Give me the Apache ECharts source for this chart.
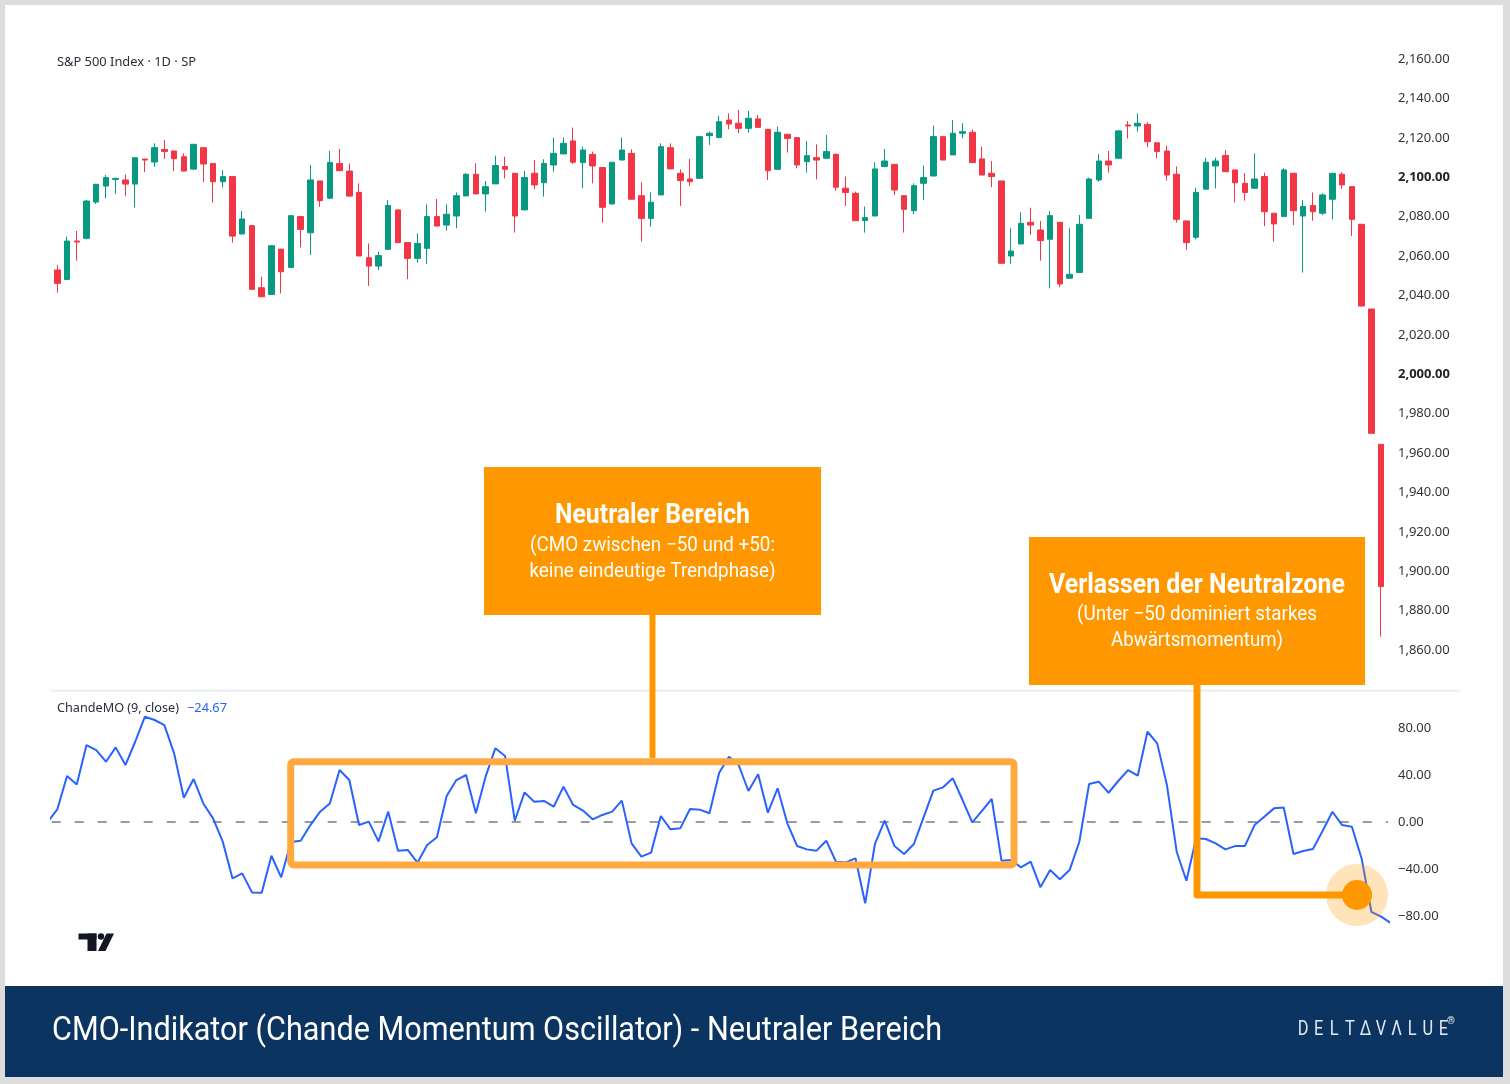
<!DOCTYPE html>
<html><head><meta charset="utf-8">
<script src="https://cdn.jsdelivr.net/npm/echarts@6/dist/echarts.min.js"></script>
<style>html,body{margin:0;padding:0;background:#dcdcdc;}#c{width:1510px;height:1084px;}</style>
</head><body><div id="c"></div>
<script>
// ---- DATA ----
const open = [2052.9,2048.1,2067.6,2069.0,2087.4,2095.5,2098.8,2098.6,2096.5,2109.2,
2107.7,2114.1,2113.3,2110.4,2104.1,2115.0,2107.0,2097.7,2100.3,2071.2,
2075.4,2043.9,2040.5,2063.5,2054.2,2080.0,2071.8,2098.1,2089.3,2107.0,
2103.1,2092.3,2059.1,2054.9,2063.4,2083.4,2066.8,2058.8,2063.9,2080.0,
2075.7,2080.3,2090.5,2101.5,2091.5,2096.6,2105.4,2102.0,2083.4,2102.0,
2097.2,2106.2,2111.8,2118.4,2107.4,2111.6,2104.9,2086.4,2108.7,2112.1,
2090.6,2079.1,2091.0,2115.0,2102.0,2099.1,2099.4,2121.1,2120.2,2129.0,
2127.4,2124.8,2129.6,2124.3,2104.0,2121.8,2120.1,2107.9,2109.9,2109.6,
2111.6,2094.4,2091.8,2078.0,2080.3,2105.4,2106.5,2090.6,2083.0,2096.9,
2100.6,2120.6,2111.3,2122.3,2122.8,2109.3,2102.0,2098.1,2060.0,2066.1,
2077.1,2073.2,2068.5,2077.1,2048.7,2051.6,2079.1,2098.6,2108.2,2109.6,
2126.5,2126.0,2126.8,2117.5,2113.3,2101.5,2077.8,2069.5,2093.9,2105.7,
2111.0,2103.7,2096.9,2094.4,2100.3,2081.7,2080.0,2102.0,2080.3,2085.6,
2081.7,2088.8,2101.5,2095.2,2076.1,2033.1,1964.4,1897.2];
const close = [2046.1,2067.6,2067.1,2087.9,2096.4,2099.8,2099.4,2096.5,2109.9,2108.7,
2115.0,2113.0,2109.4,2103.1,2116.7,2106.7,2097.7,2100.3,2070.1,2078.8,
2043.1,2039.3,2065.2,2052.0,2080.5,2073.5,2098.6,2088.1,2107.5,2103.3,
2090.4,2060.0,2054.9,2060.2,2085.6,2066.8,2058.8,2066.4,2080.0,2075.2,
2081.2,2090.6,2101.5,2091.5,2095.2,2105.9,2104.0,2080.3,2099.8,2096.1,
2107.0,2112.1,2117.2,2107.6,2113.8,2105.7,2084.7,2107.6,2113.8,2088.8,
2079.1,2087.3,2115.5,2104.2,2098.3,2097.7,2120.6,2122.3,2128.2,2127.0,
2124.8,2129.9,2125.3,2103.3,2122.8,2119.7,2106.2,2110.9,2108.7,2113.0,
2094.9,2092.2,2077.9,2079.5,2104.2,2108.2,2093.5,2083.7,2095.7,2099.8,
2120.6,2108.7,2122.3,2123.1,2107.4,2101.1,2100.3,2056.3,2062.5,2076.6,
2075.7,2067.8,2080.5,2045.8,2050.7,2076.1,2099.1,2108.2,2106.2,2123.5,
2126.0,2127.4,2118.0,2113.0,2101.1,2078.6,2066.8,2092.3,2107.6,2108.2,
2102.8,2097.2,2092.2,2099.1,2082.5,2076.3,2103.7,2083.0,2085.1,2082.5,
2091.0,2102.0,2096.1,2078.6,2034.6,1970.0,1892.2,1866.8];
const low = [2041.4,2048.0,2057.6,2068.5,2086.4,2089.3,2091.5,2090.4,2084.7,2102.6,
2105.3,2109.2,2103.1,2103.0,2103.6,2097.5,2087.1,2094.8,2066.8,2071.0,
2043.1,2039.3,2040.5,2041.0,2054.2,2064.4,2060.5,2085.0,2089.3,2103.3,
2090.4,2060.0,2044.8,2052.9,2063.4,2066.8,2048.2,2056.6,2056.0,2075.2,
2072.9,2074.1,2090.5,2091.5,2082.5,2096.6,2099.4,2071.9,2083.4,2093.8,
2090.1,2102.8,2111.8,2106.7,2094.4,2096.9,2076.9,2086.4,2108.7,2088.8,
2067.3,2074.9,2091.0,2104.2,2085.4,2095.5,2099.4,2116.4,2119.7,2124.3,
2122.3,2122.6,2125.3,2098.6,2104.0,2112.5,2104.5,2102.3,2098.9,2109.6,
2093.2,2085.4,2077.9,2071.9,2080.3,2105.4,2091.0,2071.9,2081.3,2088.4,
2100.6,2108.7,2111.3,2119.7,2107.4,2101.1,2094.9,2056.3,2056.0,2066.1,
2070.7,2057.6,2043.6,2044.1,2048.7,2051.6,2079.1,2097.7,2102.3,2109.6,
2119.7,2123.1,2115.2,2109.6,2098.3,2076.9,2063.1,2068.5,2093.9,2094.4,
2102.8,2087.1,2088.1,2094.4,2075.2,2067.3,2080.0,2075.7,2051.6,2077.9,
2080.8,2078.6,2093.9,2070.2,2034.6,1970.0,1866.8,1866.8];
const high = [2055.4,2069.8,2072.7,2088.5,2096.6,2101.1,2099.8,2101.4,2110.0,2109.4,
2117.2,2118.9,2113.3,2112.1,2116.7,2115.0,2107.0,2103.6,2100.3,2082.8,
2075.4,2049.5,2065.6,2063.5,2080.5,2080.0,2106.2,2098.1,2113.3,2114.3,
2107.0,2096.9,2066.4,2062.2,2088.4,2083.4,2066.8,2071.5,2086.2,2088.9,
2086.2,2092.3,2102.0,2107.1,2098.1,2110.9,2110.4,2102.0,2103.2,2108.7,
2109.1,2120.1,2120.1,2125.2,2115.5,2113.0,2104.9,2107.6,2120.1,2114.2,
2097.4,2092.3,2117.2,2117.2,2104.0,2109.3,2120.6,2123.1,2131.2,2132.4,
2134.1,2133.6,2131.6,2124.3,2125.7,2121.8,2120.1,2118.4,2116.7,2121.4,
2112.1,2100.3,2092.7,2085.1,2107.6,2114.3,2106.5,2090.6,2096.9,2105.9,
2126.2,2121.1,2129.0,2127.4,2124.3,2115.5,2108.2,2098.1,2074.1,2082.2,
2084.5,2077.8,2082.8,2077.1,2074.1,2080.8,2099.8,2111.8,2113.3,2124.0,
2128.5,2132.4,2127.9,2117.5,2116.0,2105.4,2077.8,2094.7,2109.9,2109.9,
2113.8,2103.7,2102.0,2112.1,2102.3,2081.7,2104.5,2102.0,2088.4,2092.3,
2091.8,2102.0,2102.5,2095.2,2076.1,2033.1,1964.4,1897.2];
// CMO values, index 0 = bar before first visible candle
const cmo = [0.0,10.7,39.1,32.0,65.5,61.2,51.3,63.5,48.5,68.3,
89.6,86.8,82.5,58.4,20.7,36.6,15.8,3.1,-16.8,-48.0,
-43.7,-59.9,-60.2,-28.7,-47.1,-17.0,-16.0,-2.6,8.8,15.8,
44.2,35.7,-2.6,0.3,-16.5,8.8,-24.4,-23.8,-34.6,-19.6,
-13.0,22.1,35.7,40.0,7.4,38.6,62.7,56.2,1.1,25.2,
17.3,17.9,13.0,30.1,14.5,9.7,2.3,6.0,8.8,18.2,
-18.2,-29.5,-26.1,5.1,-6.2,-5.4,11.1,10.5,7.4,42.0,
55.6,48.5,26.4,40.6,7.9,28.7,-1.1,-20.4,-23.3,-24.4,
-15.9,-33.8,-34.3,-30.9,-69.2,-18.7,1.1,-20.4,-27.2,-18.7,
4.0,26.7,29.5,37.2,18.7,-0.3,9.4,19.6,-32.9,-32.3,
-38.6,-33.8,-55.5,-40.9,-48.8,-40.9,-16.8,32.3,34.3,24.9,
34.9,44.2,39.4,76.8,66.9,31.4,-25.3,-50.0,-13.9,-14.5,
-18.2,-23.3,-20.5,-20.5,-2.6,4.5,11.6,12.4,-27.3,-24.7,
-23.0,-7.4,8.7,-2.6,-4.0,-31.0,-76.4,-80.6,-86.0];
const priceTicks = {min: 1840, max: 2180, step: 20};
const cmoTicks = {min: -120, max: 120, step: 40};
const boldPriceLabels = [2000, 2100];
const cmoZero = 0;
const legendMain = 'S&P 500 Index \u00b7 1D \u00b7 SP';
const legendCmo = 'ChandeMO (9, close)';
const legendCmoValue = '\u221224.67';
const callout1 = ['Neutraler Bereich', '(CMO zwischen \u221250 und +50:', 'keine eindeutige Trendphase)'];
const callout2 = ['Verlassen der Neutralzone', '(Unter \u221250 dominiert starkes', 'Abw\u00e4rtsmomentum)'];
const bannerTitle = 'CMO-Indikator (Chande Momentum Oscillator) - Neutraler Bereich';
const brandLetters = ['D','E','L','T','\u0394','V','\u039B','L','U','E'];

// ---- BUILD ----
const candleData = open.map((o, i) => [i + 1, o, close[i], low[i], high[i]]);
const cmoData = cmo.map((v, i) => [i, v]);

function fmt(v) {
  const s = Math.abs(v).toLocaleString('en-US', {minimumFractionDigits: 2, maximumFractionDigits: 2});
  return (v < 0 ? '\u2212' : '') + s;
}
const mctx = document.createElement('canvas').getContext('2d');
function fit(text, font, w) { mctx.font = font; return w / mctx.measureText(text).width; }

const UP = '#089981', DOWN = '#F23645', ORANGE = '#FF9800', BOXLINE = '#FFA940';
const XMIN = 0.425, XMAX = 137.71;
const GL = 51.7, GR = 1510 - 1388;

function txt(text, x, y, font, color, align, targetW, z, sx) {
  const el = {type: 'text', x: x, y: y, z: z || 70, silent: true,
    style: {text: text, font: font, fill: color, textAlign: align, align: align,
      textVerticalAlign: 'middle', verticalAlign: 'middle'}};
  if (targetW) el.scaleX = fit(text, font, targetW);
  if (sx) el.scaleX = sx;
  return el;
}

const graphics = [
  {type: 'rect', z: -10, silent: true, shape: {x: 5, y: 5, width: 1498, height: 981}, style: {fill: '#ffffff'}},
  {type: 'rect', z: -10, silent: true, shape: {x: 5, y: 986, width: 1498, height: 91}, style: {fill: '#0b3560'}},
  {type: 'rect', z: 1, silent: true, shape: {x: 50, y: 689.5, width: 1410, height: 2.5}, style: {fill: '#eef0f3'}},
  // TradingView logo
  {type: 'rect', z: 5, silent: true, shape: {x: 78.5, y: 933.5, width: 18, height: 6}, style: {fill: '#131722'}},
  {type: 'rect', z: 5, silent: true, shape: {x: 87.5, y: 933.5, width: 9, height: 17.5}, style: {fill: '#131722'}},
  {type: 'circle', z: 5, silent: true, shape: {cx: 101, cy: 936.5, r: 3.2}, style: {fill: '#131722'}},
  {type: 'polygon', z: 5, silent: true, shape: {points: [[106.5, 933.5], [114, 933.5], [105.5, 951], [98, 951]]}, style: {fill: '#131722'}},
  // legends
  txt(legendMain, 57, 62, '12.5px "Noto Sans"', '#2a2e39', 'left', 139),
  txt(legendCmo, 57, 708, '12.5px "Noto Sans"', '#2a2e39', 'left', 122),
  txt(legendCmoValue, 187, 708, '12.5px "Noto Sans"', '#2962ff', 'left', 40),
  // neutral zone box
  {type: 'rect', z: 50, silent: true, shape: {x: 290.7, y: 761.7, width: 723.3, height: 103.3, r: 3},
    style: {fill: null, stroke: BOXLINE, lineWidth: 7}},
  // connectors
  {type: 'polyline', z: 50, silent: true, shape: {points: [[652.5, 615], [652.5, 758]]},
    style: {stroke: ORANGE, lineWidth: 6, fill: null}},
  {type: 'polyline', z: 50, silent: true, shape: {points: [[1197, 685], [1197, 895], [1350, 895]]},
    style: {stroke: ORANGE, lineWidth: 7, fill: null, lineJoin: 'round'}},
  {type: 'circle', z: 51, silent: true, shape: {cx: 1357, cy: 895, r: 31}, style: {fill: 'rgba(255,152,0,0.27)'}},
  {type: 'circle', z: 52, silent: true, shape: {cx: 1357, cy: 895, r: 15}, style: {fill: ORANGE}},
  // callout boxes
  {type: 'rect', z: 60, silent: true, shape: {x: 484, y: 467, width: 337, height: 148}, style: {fill: ORANGE}},
  {type: 'rect', z: 60, silent: true, shape: {x: 1029, y: 537, width: 336, height: 148}, style: {fill: ORANGE}},
  txt(callout1[0], 652.5, 516, 'bold 28px Roboto', '#ffffff', 'center', 195, 61),
  txt(callout1[1], 652.5, 546, '20px Roboto', '#ffffff', 'center', 245, 61),
  txt(callout1[2], 652.5, 572, '20px Roboto', '#ffffff', 'center', 246, 61),
  txt(callout2[0], 1197, 586, 'bold 28px Roboto', '#ffffff', 'center', 296, 61),
  txt(callout2[1], 1197, 615, '20px Roboto', '#ffffff', 'center', 240, 61),
  txt(callout2[2], 1197, 641, '20px Roboto', '#ffffff', 'center', 172, 61),
  // banner
  txt(bannerTitle, 52, 1032, '33px Roboto', '#ffffff', 'left', 890, 70),
  txt('\u00ae', 1451, 1021, 'bold 10px Roboto', '#e3e8ee', 'center', null, 70)
];
brandLetters.forEach((ch, i) => {
  graphics.push(txt(ch, 1303 + i * 15.6, 1030, '400 21px Roboto', '#e3e8ee', 'center', null, 70, 0.78));
});

const axisLabelBase = {color: '#333333', fontSize: 13, fontFamily: '"Noto Sans"', margin: 10};

const chart = echarts.init(document.getElementById('c'), null, {renderer: 'canvas'});
chart.setOption({
  backgroundColor: '#dcdcdc',
  animation: false,
  grid: [
    {left: GL, right: GR, top: 19.6, height: 669.8},
    {left: GL, right: GR, top: 681, height: 282}
  ],
  xAxis: [
    {type: 'value', gridIndex: 0, min: XMIN, max: XMAX, show: false, splitLine: {show: false}},
    {type: 'value', gridIndex: 1, min: XMIN, max: XMAX, show: false, splitLine: {show: false}}
  ],
  yAxis: [
    {type: 'value', gridIndex: 0, position: 'right', min: priceTicks.min, max: priceTicks.max, interval: priceTicks.step,
      axisLine: {show: false}, axisTick: {show: false}, splitLine: {show: false},
      axisLabel: Object.assign({}, axisLabelBase, {
        formatter: v => (v <= priceTicks.min || v >= priceTicks.max) ? '' :
          (boldPriceLabels.indexOf(v) >= 0 ? '{b|' + fmt(v) + '}' : fmt(v)),
        rich: {b: {fontWeight: 'bold', color: '#222', fontSize: 13, fontFamily: '"Noto Sans"'}}
      })},
    {type: 'value', gridIndex: 1, position: 'right', min: cmoTicks.min, max: cmoTicks.max, interval: cmoTicks.step,
      axisLine: {show: false}, axisTick: {show: false}, splitLine: {show: false},
      axisLabel: Object.assign({}, axisLabelBase, {
        formatter: v => (v <= cmoTicks.min || v >= cmoTicks.max) ? '' : fmt(v)
      })}
  ],
  series: [
    {type: 'candlestick', xAxisIndex: 0, yAxisIndex: 0, data: candleData, clip: true, silent: true,
      barWidth: 6,
      itemStyle: {color: UP, color0: DOWN, borderColor: UP, borderColor0: DOWN, borderWidth: 1}},
    {type: 'line', xAxisIndex: 1, yAxisIndex: 1, data: cmoData, clip: true, silent: true,
      symbol: 'none', lineStyle: {color: '#2962ff', width: 2},
      markLine: {silent: true, symbol: 'none', z: 1, label: {show: false},
        lineStyle: {color: '#787b86', width: 1.6, type: [9, 14]},
        data: [{yAxis: cmoZero}]}}
  ],
  graphic: {elements: graphics}
});
</script>
</body></html>
